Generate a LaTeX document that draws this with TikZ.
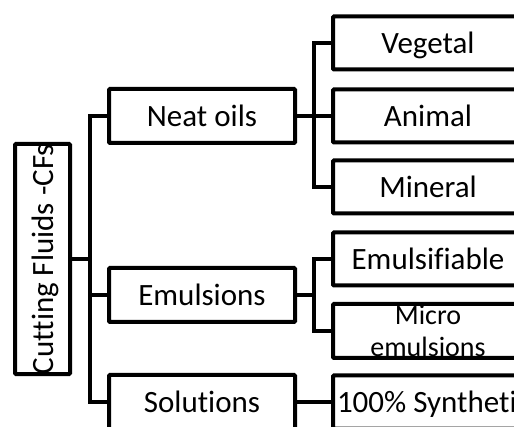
\documentclass[tikz,border=0pt]{standalone}
\usepackage{xcolor}
\usepackage{fontspec}
\setmainfont{Carlito}[Ligatures=CommonOff]
\usepackage{tikz}
\usetikzlibrary{positioning}
\newcommand{\uptext}[1]{\rotatebox{90}{\raisebox{0pt}[22pt][1pt]{#1}}}
\tikzset{
    mybox/.style = {rectangle, draw=black, line width=4pt, rounded corners=1pt, inner sep=0pt, font=\fontsize{31}{37}\selectfont},
    rootbox/.style = {mybox, minimum width=55pt, minimum height=222pt},
    catbox/.style = {mybox, minimum width=186pt, minimum height=54pt, text height=22pt, text depth=1pt},
    leafbox/.style = {mybox, minimum width=190pt, minimum height=53pt, inner xsep=4pt, text height=22pt, text depth=1pt},
    microbox/.style = {mybox, minimum width=190pt, minimum height=54pt, align=center, font=\fontsize{28}{32}\selectfont},
}

\begin{document}
\begin{tikzpicture}[
	x=1pt, y=-1pt
]
\tikzset{
    edgen/.style = {-, line width=4pt}
}
\useasboundingbox (0,0) rectangle (514,427);
\clip (0,0) rectangle (514,427);
% root and first level
\node[rootbox] at (42.5,259) (cf) {\uptext{Cutting Fluids -CFs}};
\node[catbox] at (202,116) (neat) {Neat oils};
\node[catbox] at (202,295) (emul) {Emulsions};
\node[catbox] at (202,402) (sol) {Solutions};
% second level
\node[leafbox] at (428,43) (veg) {Vegetal};
\node[leafbox] at (428,116) (ani) {Animal};
\node[leafbox] at (428,187) (min) {Mineral};
\node[leafbox] at (428,259) (emsf) {Emulsifiable};
\node[microbox] at (428,331) (micro) {Micro\\emulsions};
\node[leafbox] at (428,402) (syn) {\makebox[182pt][l]{100\% Synthetic}};
%
\coordinate (trunk) at (90,259);
\coordinate (nsplit) at (314,116);
\coordinate (esplit) at (314,295);
%
\draw[edgen] (cf.east) -- (trunk);
\draw[edgen] (neat.west) -| (trunk) |- (sol.west);
\draw[edgen] (trunk) |- (emul.west);
%
\draw[edgen] (neat.east) -- (nsplit);
\draw[edgen] (veg.west) -| (nsplit) |- (min.west);
\draw[edgen] (nsplit) -- (ani.west);
%
\draw[edgen] (emul.east) -- (esplit);
\draw[edgen] (emsf.west) -| (esplit) |- (micro.west);
%
\draw[edgen] (sol.east) -- (syn.west);
\end{tikzpicture}
\end{document}
